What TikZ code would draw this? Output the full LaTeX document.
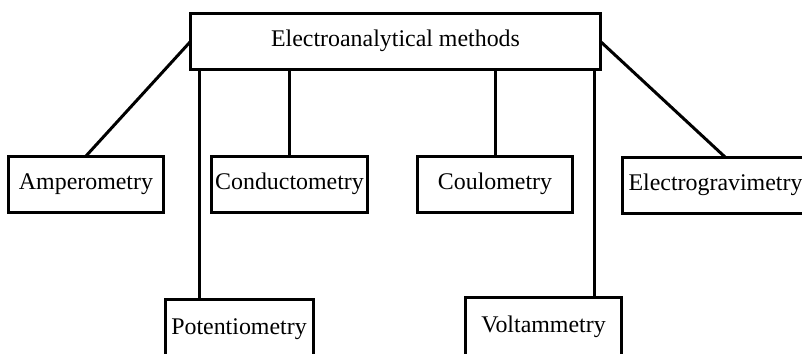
\documentclass[tikz,border=0pt]{standalone}
\usepackage{fontspec}
\setmainfont{Liberation Serif}
\begin{document}
\begin{tikzpicture}[x=1pt,y=-1pt,
  box/.style={draw,line width=3pt,outer sep=0pt,inner sep=0pt,minimum height=56pt,
    text height=16pt,text depth=5pt,font=\fontsize{23.9}{28}\selectfont},
  conn/.style={line width=3pt}]
\useasboundingbox (0,0) rectangle (802,353);
\fill[white] (0,0) rectangle (802,353);
\node[box,minimum width=410pt] (top) at (395.5,41.5) {Electroanalytical methods};
\node[box,minimum width=155pt] (amp) at (86,184) {Amperometry};
\node[box,minimum width=156pt] (cond) at (289.5,184) {Conductometry};
\node[box,minimum width=155pt] (coul) at (495,184) {Coulometry};
\node[box,minimum width=186pt] (elec) at (715.5,185) {Electrogravimetry};
\node[box,minimum width=148pt,minimum height=80pt,text depth=27pt,anchor=north] (pot) at (239,299.5) {Potentiometry};
\node[box,minimum width=156pt,minimum height=80pt,text depth=27pt,anchor=north] (volt) at (543.5,297.5) {Voltammetry};
\coordinate (pj) at (199,299.5);
\coordinate (vj) at (594,297.5);
\coordinate (ej) at (725,157);
\draw[conn] (top.west) -- (amp.north);
\draw[conn] (top.east) -- (ej);
\draw[conn] (top.south -| cond.north) -- (cond.north);
\draw[conn] (top.south -| coul.north) -- (coul.north);
\draw[conn] (top.south -| pj) -- (pj);
\draw[conn] (top.south -| vj) -- (vj);
\end{tikzpicture}
\end{document}
